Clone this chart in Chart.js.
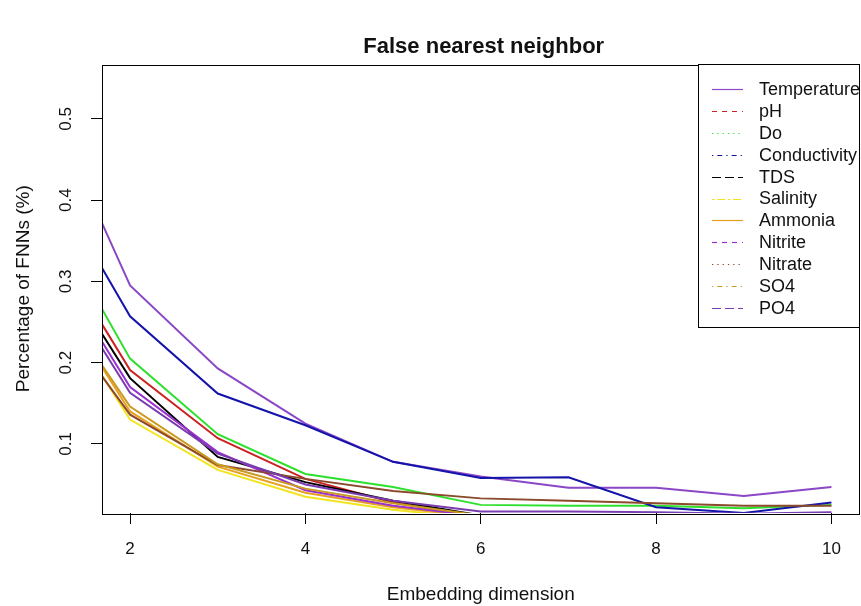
<!DOCTYPE html>
<html>
<head>
<meta charset="utf-8">
<script src="https://cdn.jsdelivr.net/npm/chart.js@4"></script>
<style>
  html, body { margin: 0; padding: 0; background: #fff; }
  #wrap { width: 861px; height: 606px; }
</style>
</head>
<body>
<div id="wrap"><canvas id="fnnChart" width="861" height="606"></canvas></div>
<script>
// Embedding dimensions and FNN fraction per variable
const dims = [1, 2, 3, 4, 5, 6, 7, 8, 9, 10];
const temperature  = [0.535, 0.295, 0.193, 0.125, 0.078, 0.060, 0.046, 0.046, 0.036, 0.047];
const ph           = [0.367, 0.191, 0.107, 0.057, 0.028, 0.010, 0.009, 0.008, 0.008, 0.007];
const dissolvedO2  = [0.396, 0.205, 0.112, 0.063, 0.047, 0.025, 0.024, 0.024, 0.021, 0.025];
const conductivity = [0.443, 0.257, 0.162, 0.123, 0.078, 0.058, 0.059, 0.022, 0.015, 0.028];
const tds          = [0.351, 0.181, 0.084, 0.053, 0.030, 0.012, 0.010, 0.009, 0.008, 0.008];
const salinity     = [0.300, 0.130, 0.068, 0.035, 0.019, 0.008, 0.007, 0.007, 0.006, 0.006];
const ammonia      = [0.310, 0.140, 0.072, 0.040, 0.022, 0.010, 0.008, 0.008, 0.007, 0.007];
const nitrite      = [0.345, 0.170, 0.090, 0.043, 0.024, 0.011, 0.009, 0.008, 0.008, 0.008];
const nitrate      = [0.284, 0.136, 0.074, 0.057, 0.042, 0.033, 0.030, 0.027, 0.024, 0.024];
const so4          = [0.305, 0.146, 0.075, 0.045, 0.027, 0.012, 0.010, 0.009, 0.008, 0.008];
const po4          = [0.335, 0.163, 0.088, 0.050, 0.030, 0.017, 0.017, 0.016, 0.014, 0.016];

const seriesNames = ['Temperature', 'pH', 'Do', 'Conductivity', 'TDS', 'Salinity',
                     'Ammonia', 'Nitrite', 'Nitrate', 'SO4', 'PO4'];
const seriesValues = [temperature, ph, dissolvedO2, conductivity, tds, salinity,
                      ammonia, nitrite, nitrate, so4, po4];
const seriesColors = ['#8b47c6', '#cc2222', '#2ee02e', '#1414aa', '#000000', '#f2e41e',
                      '#e8a020', '#9b30d0', '#8b4a2b', '#c89a20', '#7a3db0'];
// R line types used in the legend only (plotted lines are solid)
const legendDash = [[], [5, 5], [1.3, 4], [1.3, 4, 5, 4], [9, 4], [2.6, 2.6, 8, 2.6],
                    [], [5, 5], [1.3, 4], [1.3, 4, 5, 4], [9, 4]];
const xTicks = [2, 4, 6, 8, 10];
const yTicks = [0.1, 0.2, 0.3, 0.4, 0.5];
const chartTitle = 'False nearest neighbor';

const FONT = "'Liberation Sans', Arial, sans-serif";

const datasets = seriesNames.map((name, i) => ({
    label: name,
    data: dims.map((d, j) => ({ x: d, y: seriesValues[i][j] })),
    borderColor: seriesColors[i],
    backgroundColor: seriesColors[i],
    borderWidth: 2,
    pointRadius: 0,
    tension: 0,
    fill: false,
    order: -i
}));

// title over the plot region, box around plot, rotated y tick labels, R-style legend
const rStyle = {
    id: 'rStyle',
    afterDraw(chart) {
        const ctx = chart.ctx;
        const a = chart.chartArea;
        ctx.save();

        ctx.fillStyle = '#111';
        ctx.font = 'bold 22px ' + FONT;
        ctx.textAlign = 'center';
        ctx.textBaseline = 'middle';
        ctx.fillText(chartTitle, (a.left + a.right) / 2 + 3, 47);

        ctx.strokeStyle = '#000';
        ctx.lineWidth = 1;
        ctx.strokeRect(Math.round(a.left) + 0.5, Math.round(a.top) + 0.5,
                       Math.round(a.right - a.left) - 1, Math.round(a.bottom - a.top));

        // y tick labels, rotated like R's default
        const ys = chart.scales.y;
        ctx.font = '17px ' + FONT;
        ctx.textAlign = 'center';
        ctx.textBaseline = 'alphabetic';
        ys.ticks.forEach(t => {
            const py = ys.getPixelForValue(t.value);
            ctx.save();
            ctx.translate(71, py);
            ctx.rotate(-Math.PI / 2);
            ctx.fillText(String(t.value), 0, 0);
            ctx.restore();
        });

        // legend
        const lx = 698.5, ly = 64.5, lr = Math.round(a.right) - 0.5, lb = 327.5;
        ctx.fillStyle = '#fff';
        ctx.fillRect(lx, ly, lr - lx, lb - ly);
        ctx.strokeStyle = '#000';
        ctx.strokeRect(lx, ly, lr - lx, lb - ly);
        ctx.font = '18px ' + FONT;
        ctx.textAlign = 'left';
        ctx.textBaseline = 'middle';
        seriesNames.forEach((name, i) => {
            const y = 89 + i * 21.9;
            ctx.strokeStyle = seriesColors[i];
            ctx.lineWidth = 1.2;
            ctx.setLineDash(legendDash[i]);
            ctx.beginPath();
            ctx.moveTo(712, Math.round(y) + 0.5);
            ctx.lineTo(743, Math.round(y) + 0.5);
            ctx.stroke();
            ctx.setLineDash([]);
            ctx.fillStyle = '#111';
            ctx.fillText(name, 759, y + 1);
        });
        ctx.restore();
    }
};

new Chart(document.getElementById('fnnChart').getContext('2d'), {
    type: 'line',
    data: { datasets: datasets },
    plugins: [rStyle],
    options: {
        responsive: false,
        animation: false,
        layout: { padding: { left: 0, right: 1.5, top: 64.5, bottom: 0 } },
        plugins: {
            legend: { display: false },
            tooltip: { enabled: false },
            title: { display: false }
        },
        scales: {
            x: {
                type: 'linear',
                min: 1.68,
                max: 10.32,
                afterBuildTicks: s => { s.ticks = xTicks.map(v => ({ value: v })); },
                afterFit: s => { s.height = 93; },
                grid: { display: true, drawOnChartArea: false, drawTicks: true, tickLength: 11, color: '#000' },
                border: { display: false },
                ticks: { color: '#111', font: { family: FONT, size: 17 }, padding: 15, maxRotation: 0, autoSkip: false },
                title: {
                    display: true,
                    text: 'Embedding dimension',
                    color: '#111',
                    font: { family: FONT, size: 19 },
                    padding: { top: 0, bottom: 0 }
                }
            },
            y: {
                min: 0.015,
                max: 0.567,
                afterBuildTicks: s => { s.ticks = yTicks.map(v => ({ value: v })); },
                afterFit: s => { s.width = 102; },
                grid: { display: true, drawOnChartArea: false, drawTicks: true, tickLength: 11, color: '#000' },
                border: { display: false },
                ticks: { callback: () => '', autoSkip: false },
                title: {
                    display: true,
                    text: 'Percentage of FNNs (%)',
                    color: '#111',
                    font: { family: FONT, size: 19 },
                    padding: { top: 12, bottom: 0 }
                }
            }
        }
    }
});
</script>
</body>
</html>
